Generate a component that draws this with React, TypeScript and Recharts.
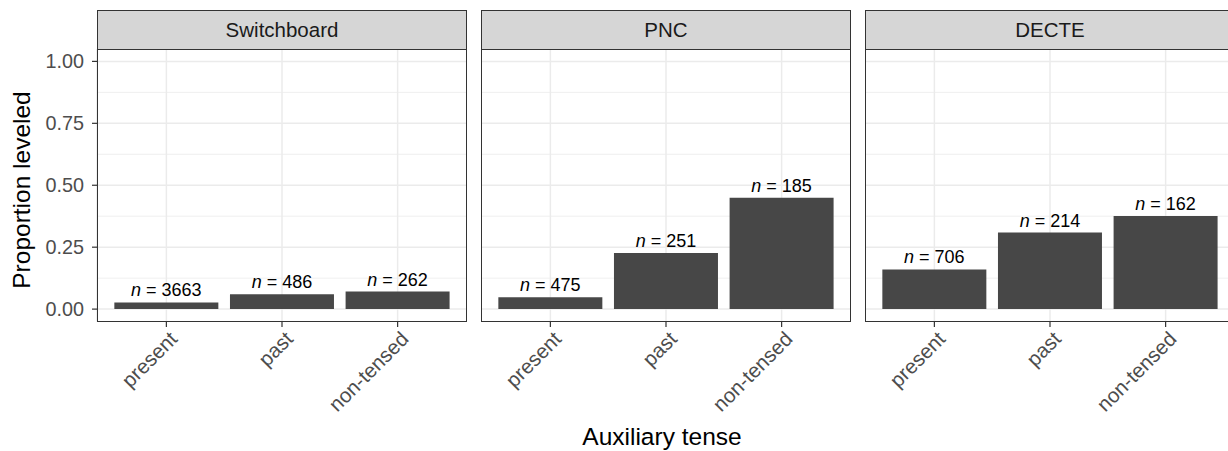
import { BarChart, Bar, XAxis, YAxis, CartesianGrid, LabelList } from 'recharts'

const tenses = ['present', 'past', 'non-tensed']
const corpora = ['Switchboard', 'PNC', 'DECTE']

const switchboardProp = [0.027, 0.06, 0.071]
const switchboardN = [3663, 486, 262]
const pncProp = [0.048, 0.227, 0.45]
const pncN = [475, 251, 185]
const decteProp = [0.16, 0.309, 0.376]
const decteN = [706, 214, 162]

const yTicks = [0, 0.25, 0.5, 0.75, 1]
const yMinor = [0.125, 0.375, 0.625, 0.875]

const FONT = '"Liberation Sans", Arial, sans-serif'
const PANEL_W = 370
const PANEL_H = 272.5
const PANEL_TOP = 49
const Y_AXIS_W = 97
const X_AXIS_H = 110
const PANEL_LEFTS = [97, 481, 865]

const props = [switchboardProp, pncProp, decteProp]
const counts = [switchboardN, pncN, decteN]

function XTick({ x, y, payload }: any) {
  return (
    <text
      x={x + 2}
      y={y + 1}
      dy="0.71em"
      textAnchor="end"
      transform={`rotate(-45 ${x + 2} ${y + 1})`}
      fill="#4d4d4d"
      fontSize={20.5}
      fontFamily={FONT}
    >
      {payload.value}
    </text>
  )
}

function NLabel(p: any) {
  const { x, y, width, value } = p
  return (
    <text
      x={x + width / 2}
      y={y - 6}
      textAnchor="middle"
      fill="#000"
      fontSize={18}
      fontFamily={FONT}
    >
      <tspan fontStyle="italic">n</tspan> = {value}
    </text>
  )
}

function Panel({ idx }: { idx: number }) {
  const rows = tenses.map((t, i) => ({ tense: t, prop: props[idx][i], n: counts[idx][i] }))
  const first = idx === 0
  const left = first ? 0 : PANEL_LEFTS[idx]
  const w = first ? Y_AXIS_W + PANEL_W : PANEL_W
  const pad = PANEL_W / 3.2 * 0.1
  return (
    <div style={{ position: 'absolute', left, top: PANEL_TOP }}>
      <BarChart
        width={w}
        height={PANEL_H + X_AXIS_H}
        data={rows}
        margin={{ top: 0, right: 0, bottom: 0, left: 0 }}
        barCategoryGap="5%"
      >
        <CartesianGrid
          horizontalValues={yMinor}
          vertical={false}
          stroke="#ebebeb"
          strokeWidth={0.8}
        />
        <CartesianGrid
          horizontalValues={yTicks}
          stroke="#ebebeb"
          strokeWidth={1.5}
        />
        <XAxis
          dataKey="tense"
          height={X_AXIS_H}
          interval={0}
          padding={{ left: pad, right: pad }}
          axisLine={false}
          tickLine={{ stroke: '#333333', strokeWidth: 1.2 }}
          tickSize={5.5}
          tickMargin={2}
          tick={<XTick />}
        />
        <YAxis
          hide={!first}
          width={Y_AXIS_W}
          domain={[-0.05, 1.05]}
          ticks={yTicks}
          allowDataOverflow
          axisLine={false}
          tickLine={{ stroke: '#333333', strokeWidth: 1.2 }}
          tickSize={5}
          tickMargin={8}
          tickFormatter={(v: number) => v.toFixed(2)}
          tick={{ fill: '#4d4d4d', fontSize: 19.8, fontFamily: FONT }}
        />
        <Bar dataKey="prop" fill="#474747" isAnimationActive={false}>
          <LabelList dataKey="n" content={<NLabel />} />
        </Bar>
      </BarChart>
    </div>
  )
}

export default function App() {
  return (
    <div
      style={{
        position: 'absolute',
        left: 0,
        top: 0,
        width: 1228,
        height: 451,
        overflow: 'hidden',
        background: '#fff',
        fontFamily: FONT,
      }}
    >
      {corpora.map((c, i) => (
        <Panel key={c} idx={i} />
      ))}
      {corpora.map((c, i) => (
        <div key={c + '-frame'}>
          <div
            style={{
              position: 'absolute',
              left: PANEL_LEFTS[i],
              top: PANEL_TOP,
              width: PANEL_W,
              height: PANEL_H,
              border: '1.2px solid #333333',
              boxSizing: 'border-box',
              pointerEvents: 'none',
            }}
          />
          <div
            style={{
              position: 'absolute',
              left: PANEL_LEFTS[i],
              top: 10,
              width: PANEL_W,
              height: 40,
              background: '#d6d6d6',
              border: '1.2px solid #333333',
              boxSizing: 'border-box',
              display: 'flex',
              alignItems: 'center',
              justifyContent: 'center',
              fontSize: 20.5,
              color: '#1a1a1a',
            }}
          >
            {c}
          </div>
        </div>
      ))}
      <svg
        width={1228}
        height={451}
        style={{ position: 'absolute', left: 0, top: 0, pointerEvents: 'none' }}
      >
        <text
          x={30}
          y={190}
          textAnchor="middle"
          transform="rotate(-90 30 190)"
          fontSize={24.5}
          fontFamily={FONT}
          fill="#000"
        >
          Proportion leveled
        </text>
        <text x={662} y={445} textAnchor="middle" fontSize={24.5} fontFamily={FONT} fill="#000">
          Auxiliary tense
        </text>
      </svg>
    </div>
  )
}
